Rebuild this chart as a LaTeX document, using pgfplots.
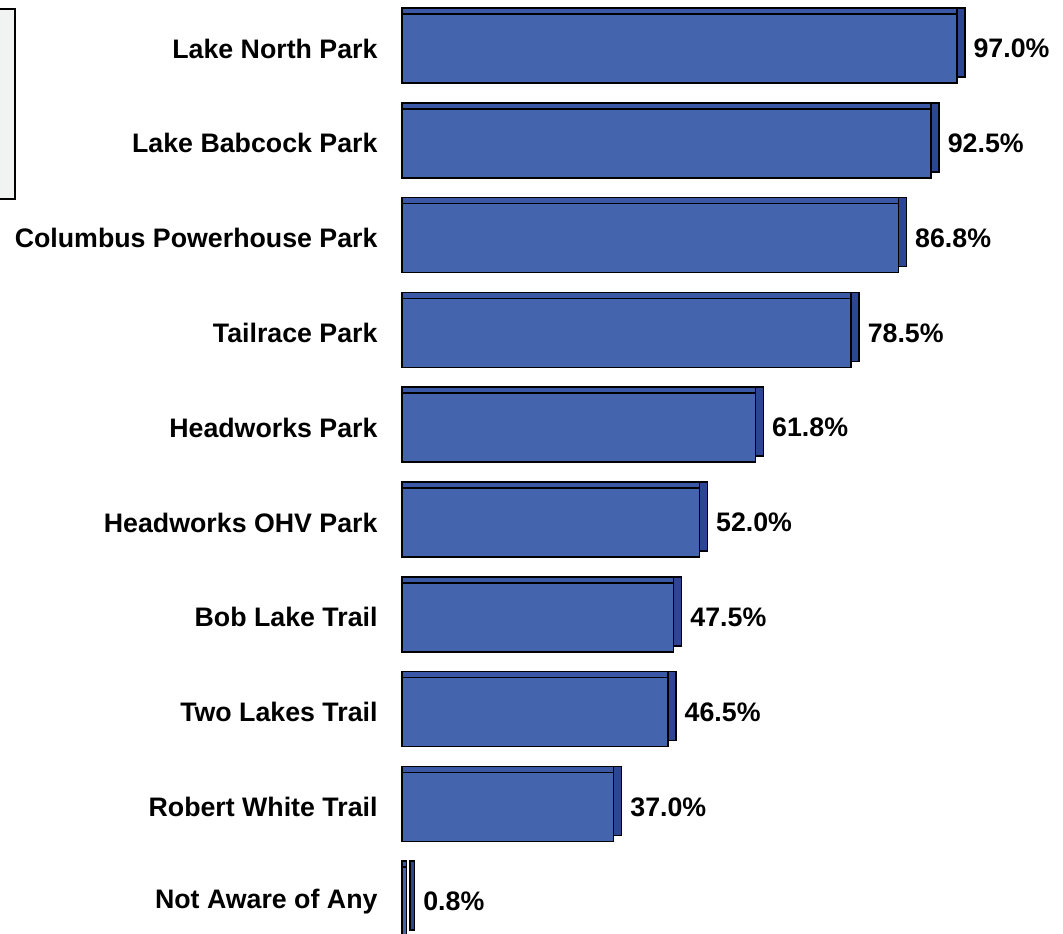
\documentclass[border=0pt]{standalone}
\usepackage{fontspec}
\setmainfont{Liberation Sans}
\usepackage{pgfplots}
\pgfplotsset{compat=1.18}
\definecolor{barfront}{RGB}{68,101,174}
\definecolor{bartop}{RGB}{58,88,165}
\definecolor{barback}{RGB}{44,70,148}
\definecolor{boxfill}{RGB}{241,243,242}

\pgfplotstableread{
y  v
9  97.0
8  92.5
7  86.8
6  78.5
5  61.8
4  52.0
3  47.5
2  46.5
1  37.0
0  0.8
}\awareness

\begin{document}
\begin{tikzpicture}
\begin{axis}[
    scale only axis,
    width=264.4pt, height=373.6pt,
    xmin=0, xmax=115.56,
    ymin=-0.341, ymax=9.512,
    xbar, bar width=27.6pt, bar shift=0pt,
    axis x line=none,
    axis y line*=left,
    y axis line style={draw=none},
    major tick length=0pt,
    ytick={0,...,9},
    yticklabels={Not Aware of Any, Robert White Trail, Two Lakes Trail, Bob Lake Trail, Headworks OHV Park, Headworks Park, Tailrace Park, Columbus Powerhouse Park, Lake Babcock Park, Lake North Park},
    yticklabel style={font=\fontsize{10.7}{12}\selectfont\bfseries, inner sep=0pt, anchor=east, xshift=-9.6pt},
    clip=false,
    /pgf/number format/assume math mode=true,
]
% side face and top face of the 3D look
\addplot[draw=black, line width=0.6pt, fill=barback, xshift=3.2pt, yshift=2.4pt] table[x=v, y=y] {\awareness};
\addplot[draw=black, line width=0.6pt, fill=bartop, yshift=2.4pt] table[x=v, y=y] {\awareness};
\addplot[draw=black, line width=0.6pt, fill=barfront,
    nodes near coords={\pgfmathprintnumber[fixed, fixed zerofill, precision=1]{\pgfplotspointmeta}\%},
    point meta=x,
    every node near coord/.append style={font=\fontsize{10.7}{12}\selectfont\bfseries, anchor=west, inner sep=0pt, xshift=6.4pt, text=black}]
    table[x=v, y=y] {\awareness};
\end{axis}
\draw[line width=0.8pt, fill=boxfill] (current axis.south west) ++(-162pt,294pt) rectangle ++(7.2pt,76pt);
\pgfresetboundingbox
\path (current axis.south west) ++(-160.8pt,0pt) rectangle (current axis.north east);
\end{tikzpicture}
\end{document}
